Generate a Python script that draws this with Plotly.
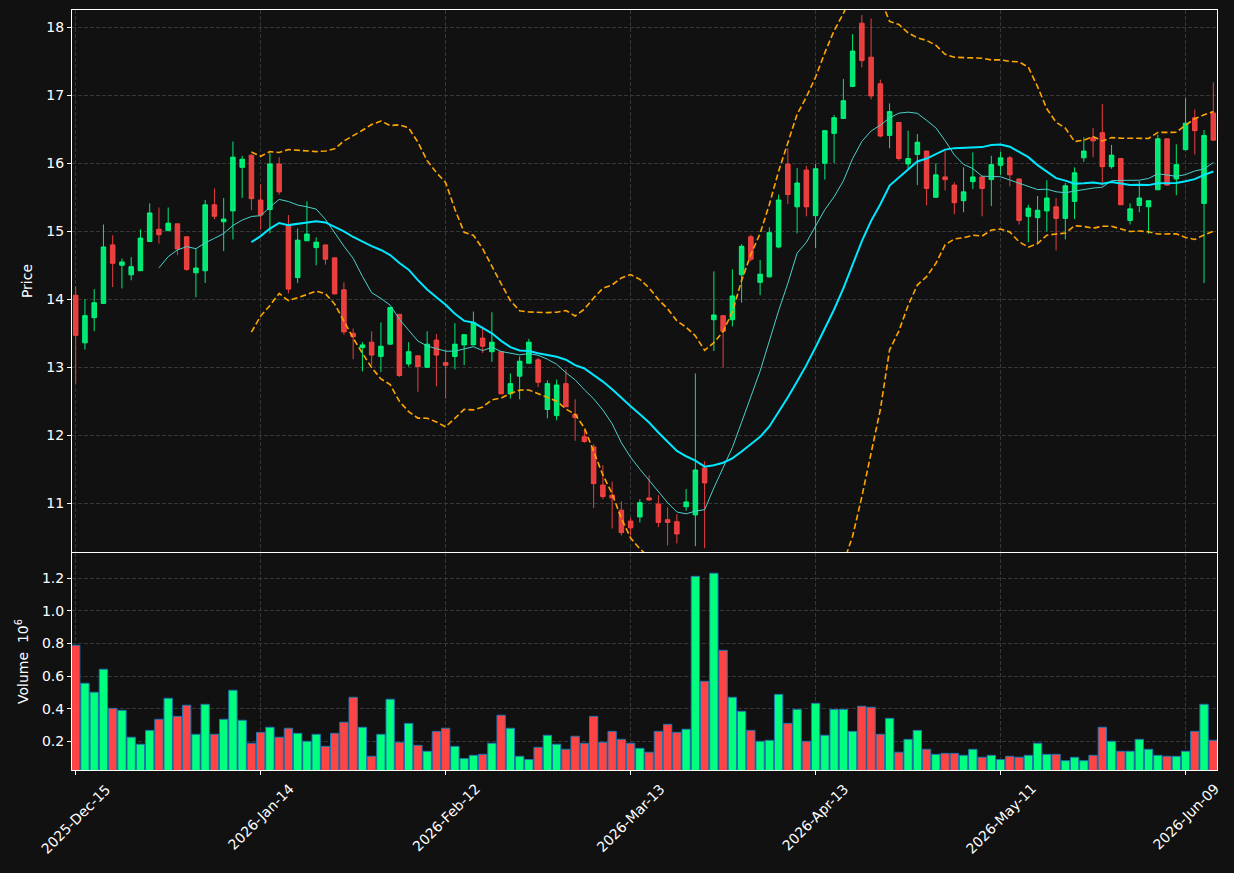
import numpy as np
import pandas as pd
import plotly.graph_objects as go

# ---------------- data ----------------
start_date = "2025-12-15"
end_date = "2026-06-12"
holidays = ["2025-12-25", "2026-01-01", "2026-01-19", "2026-02-16", "2026-04-03", "2026-05-25"]

open_ = [14.06, 13.36, 13.73, 13.94, 14.80, 14.50, 14.36, 14.42, 14.85, 15.03,
         15.01, 15.11, 14.92, 14.39, 14.42, 15.39, 15.14, 15.30, 15.94, 16.12,
         15.46, 15.32, 15.99, 15.09, 14.32, 14.86, 14.76, 14.80, 14.61, 14.14,
         13.50, 13.29, 13.37, 13.16, 13.34, 13.78, 13.05, 13.17, 13.00, 13.40,
         13.07, 13.16, 13.33, 13.33, 13.43, 13.23, 13.23, 12.61, 12.87, 13.06,
         13.11, 12.38, 12.29, 12.76, 12.31, 11.98, 11.83, 11.27, 11.12, 10.90,
         10.74, 10.80, 11.08, 10.99, 10.76, 10.73, 10.95, 10.83, 11.52, 13.70,
         13.76, 13.70, 14.36, 14.92, 14.25, 14.33, 14.77, 15.99, 15.36, 15.90,
         15.23, 16.00, 16.44, 16.66, 17.13, 18.06, 17.56, 17.17, 16.41, 16.60,
         15.99, 16.13, 16.18, 15.50, 15.80, 15.68, 15.45, 15.73, 15.80, 15.76,
         15.97, 16.08, 15.77, 15.22, 15.20, 15.30, 15.36, 15.19, 15.44, 16.08,
         16.38, 16.45, 15.95, 16.07, 15.16, 15.38, 15.36, 15.61, 16.36, 15.77,
         16.20, 16.67, 15.41, 16.74]
high = [14.19, 14.00, 14.15, 15.10, 14.94, 14.60, 14.62, 15.03, 15.41, 15.35,
        15.35, 15.11, 14.92, 14.74, 15.46, 15.63, 15.49, 16.32, 16.11, 16.13,
        15.69, 16.15, 16.09, 15.24, 15.04, 15.44, 14.91, 14.80, 14.61, 14.25,
        13.57, 13.37, 13.53, 13.66, 13.88, 13.78, 13.37, 13.17, 13.53, 13.49,
        13.26, 13.65, 13.48, 13.82, 13.60, 13.81, 13.23, 12.91, 13.16, 13.42,
        13.14, 12.81, 12.82, 12.97, 12.53, 12.08, 11.87, 11.56, 11.32, 11.03,
        10.79, 11.06, 11.41, 11.12, 10.94, 10.84, 11.21, 12.91, 11.62, 14.41,
        13.76, 14.44, 14.81, 14.95, 14.58, 15.06, 15.54, 16.22, 15.93, 15.96,
        15.99, 16.49, 16.71, 17.24, 17.90, 18.18, 18.13, 17.23, 16.88, 16.60,
        16.48, 16.43, 16.18, 16.00, 16.18, 15.72, 15.94, 16.16, 15.81, 16.11,
        16.17, 16.11, 15.77, 15.39, 15.52, 15.75, 15.49, 15.71, 15.94, 16.38,
        16.52, 16.87, 16.27, 16.07, 15.41, 15.74, 15.45, 16.42, 16.36, 16.28,
        16.96, 16.79, 16.49, 17.19]
low = [12.76, 13.26, 13.53, 13.93, 14.18, 14.16, 14.28, 14.42, 14.85, 14.82,
       15.01, 14.65, 14.42, 14.03, 14.24, 15.18, 14.71, 14.88, 15.49, 15.31,
       15.03, 14.97, 15.54, 14.09, 14.24, 14.86, 14.50, 14.51, 14.07, 13.48,
       13.12, 12.94, 13.03, 12.93, 13.34, 12.86, 13.01, 12.64, 12.99, 12.72,
       12.54, 12.97, 13.03, 13.33, 13.21, 13.08, 12.60, 12.54, 12.53, 13.06,
       12.71, 12.25, 12.22, 12.42, 11.92, 11.89, 10.93, 11.06, 10.63, 10.53,
       10.53, 10.72, 11.04, 10.65, 10.38, 10.41, 10.89, 10.37, 10.34, 13.24,
       13.00, 13.60, 13.95, 14.56, 14.06, 14.32, 14.75, 15.40, 14.97, 15.22,
       14.75, 15.76, 16.00, 16.65, 17.12, 17.41, 16.94, 16.38, 16.22, 16.04,
       15.92, 15.68, 15.38, 15.49, 15.60, 15.25, 15.28, 15.62, 15.22, 15.37,
       15.83, 15.66, 15.10, 14.84, 14.81, 15.00, 14.72, 14.88, 15.18, 16.02,
       16.09, 15.67, 15.92, 15.39, 15.10, 15.28, 14.96, 15.61, 15.67, 15.53,
       16.19, 16.13, 14.24, 16.33]
close = [13.47, 13.76, 13.95, 14.77, 14.53, 14.55, 14.48, 14.90, 15.27, 14.95,
         15.12, 14.74, 14.44, 14.46, 15.39, 15.22, 15.18, 16.09, 16.06, 15.48,
         15.24, 15.99, 15.58, 14.15, 14.87, 14.96, 14.84, 14.59, 14.08, 13.52,
         13.45, 13.33, 13.18, 13.31, 13.88, 12.88, 13.23, 13.01, 13.34, 13.18,
         13.03, 13.34, 13.48, 13.66, 13.31, 13.37, 12.61, 12.76, 13.09, 13.37,
         12.78, 12.76, 12.74, 12.42, 12.26, 11.91, 11.29, 11.10, 11.08, 10.57,
         10.64, 11.01, 11.05, 10.72, 10.72, 10.55, 11.02, 11.49, 11.30, 13.77,
         13.53, 14.05, 14.78, 14.59, 14.37, 14.98, 15.46, 15.54, 15.71, 15.36,
         15.92, 16.48, 16.67, 16.92, 17.65, 17.51, 16.99, 16.40, 16.76, 16.07,
         16.07, 16.31, 15.63, 15.83, 15.76, 15.42, 15.58, 15.80, 15.63, 15.98,
         16.08, 15.83, 15.16, 15.34, 15.31, 15.49, 15.19, 15.67, 15.86, 16.18,
         16.33, 15.95, 16.12, 15.39, 15.33, 15.49, 15.45, 16.36, 15.68, 15.98,
         16.59, 16.48, 16.41, 16.34]
volume_m = [0.789, 0.556, 0.501, 0.642, 0.402, 0.390, 0.225, 0.182, 0.267, 0.335,
            0.464, 0.353, 0.421, 0.243, 0.427, 0.243, 0.335, 0.513, 0.329, 0.188,
            0.255, 0.286, 0.225, 0.280, 0.249, 0.200, 0.243, 0.169, 0.249, 0.317,
            0.470, 0.286, 0.108, 0.243, 0.458, 0.194, 0.310, 0.175, 0.139, 0.261,
            0.280, 0.169, 0.094, 0.114, 0.120, 0.188, 0.360, 0.280, 0.108, 0.088,
            0.163, 0.237, 0.182, 0.151, 0.231, 0.188, 0.353, 0.194, 0.261, 0.212,
            0.188, 0.157, 0.133, 0.261, 0.304, 0.255, 0.274, 1.212, 0.568, 1.231,
            0.758, 0.470, 0.384, 0.267, 0.200, 0.206, 0.488, 0.310, 0.396, 0.200,
            0.433, 0.237, 0.396, 0.396, 0.261, 0.415, 0.409, 0.243, 0.341, 0.133,
            0.212, 0.267, 0.151, 0.120, 0.126, 0.126, 0.114, 0.151, 0.102, 0.114,
            0.088, 0.108, 0.102, 0.114, 0.188, 0.120, 0.120, 0.081, 0.102, 0.081,
            0.114, 0.286, 0.200, 0.139, 0.139, 0.212, 0.151, 0.114, 0.108, 0.108,
            0.139, 0.261, 0.427, 0.206]

# ---------------- derived ----------------
n = len(close)
dates = pd.bdate_range(start_date, end_date, freq="C", holidays=holidays)[:n]
x = np.arange(n)
tick_idx = list(x[::20])
tick_text = [dates[i].strftime("%Y-%b-%d") for i in tick_idx]

cs = pd.Series(close)
ma10 = cs.rolling(10).mean()
ma20 = cs.rolling(20).mean()
sd20 = cs.rolling(20).std(ddof=0)
bb_up = ma20 + 2 * sd20
bb_lo = ma20 - 2 * sd20

UP = "rgba(0,255,127,0.9)"
DN = "rgba(255,68,68,0.9)"
vol_colors = ["#00ff7f" if c >= o else "#ff4444" for o, c in zip(open_, close)]

BG = "#111111"
GRID = "#363636"
FONT = "DejaVu Sans"

fig = go.Figure()
fig.add_trace(go.Candlestick(
    x=x, open=open_, high=high, low=low, close=close,
    increasing=dict(line=dict(color=UP, width=1), fillcolor=UP),
    decreasing=dict(line=dict(color=DN, width=1), fillcolor=DN),
    whiskerwidth=0, showlegend=False, xaxis="x", yaxis="y",
))
fig.add_trace(go.Scatter(x=x, y=ma10, mode="lines", line=dict(color="#48d1cc", width=1),
                         showlegend=False, xaxis="x", yaxis="y"))
fig.add_trace(go.Scatter(x=x, y=ma20, mode="lines", line=dict(color="#00e8ff", width=2),
                         showlegend=False, xaxis="x", yaxis="y"))
for band in (bb_up, bb_lo):
    fig.add_trace(go.Scatter(x=x, y=band, mode="lines",
                             line=dict(color="#ffa500", width=1.6, dash="6px,3px"),
                             showlegend=False, xaxis="x", yaxis="y"))
fig.add_trace(go.Bar(x=x, y=volume_m, marker=dict(color=vol_colors, line=dict(color="#1f77b4", width=1)),
                     width=0.9, showlegend=False, xaxis="x2", yaxis="y2"))

xrange_ = [-0.4, n - 1 + 0.4]
axis_common = dict(showline=True, mirror=True, linecolor="white", linewidth=1,
                   showgrid=True, gridcolor=GRID, griddash="4px,2px", gridwidth=1,
                   zeroline=False, tickfont=dict(family=FONT, size=14, color="white"),
                   tickcolor="white", ticklen=4)

fig.update_layout(
    width=1234, height=873,
    margin=dict(l=72, r=17, t=10, b=103),
    paper_bgcolor=BG, plot_bgcolor=BG,
    font=dict(family=FONT, size=14, color="white"),
    bargap=0.1,
    xaxis=dict(domain=[0, 1], anchor="y", range=xrange_, tickmode="array", tickvals=tick_idx,
               showticklabels=False, ticks="", rangeslider=dict(visible=False), **axis_common),
    yaxis=dict(domain=[0.2868, 1], anchor="x", range=[10.284, 18.254], tickmode="array",
               tickvals=[11, 12, 13, 14, 15, 16, 17, 18], ticks="outside",
               title=dict(text="Price", font=dict(family=FONT, size=14, color="white"), standoff=10),
               **axis_common),
    xaxis2=dict(domain=[0, 1], anchor="y2", range=xrange_, tickmode="array", tickvals=tick_idx,
                showticklabels=False, ticks="outside", **axis_common),
    yaxis2=dict(domain=[0, 0.2855], anchor="x2", range=[0.024, 1.355], tickmode="array",
                tickvals=[0.2, 0.4, 0.6, 0.8, 1.0, 1.2], tickformat=".1f", ticks="outside",
                title=dict(text="Volume  10<sup>6</sup>", font=dict(family=FONT, size=14, color="white"), standoff=10),
                **axis_common),
)

for xi, txt in zip(tick_idx, tick_text):
    fig.add_annotation(x=xi, y=0, xref="x2", yref="paper", text=txt, showarrow=False,
                       textangle=-45, xanchor="center", yanchor="top", yshift=-8,
                       font=dict(family=FONT, size=14, color="white"))

fig.write_html("out.html")
